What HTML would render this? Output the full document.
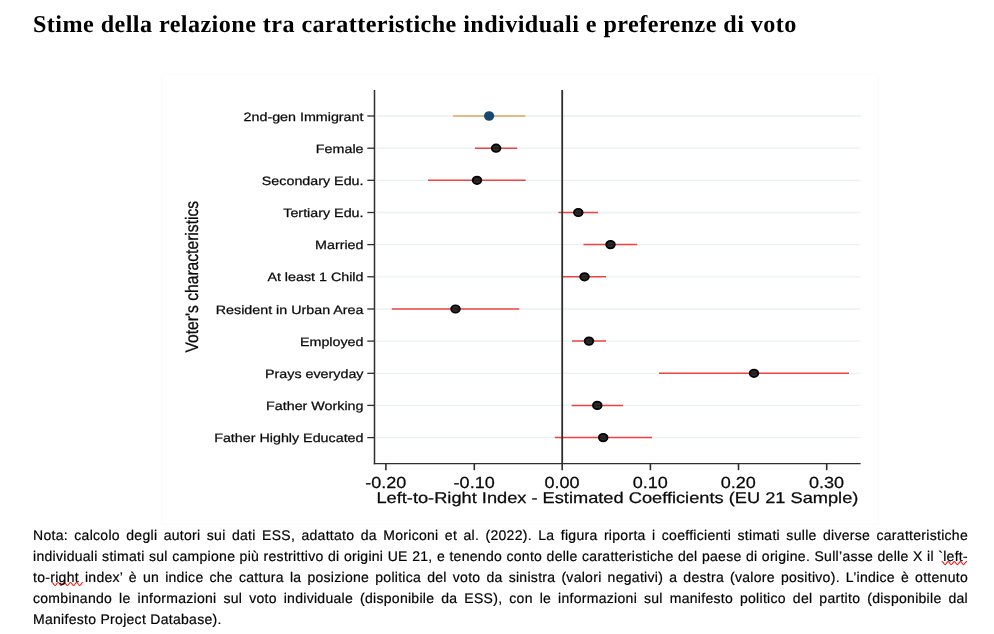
<!DOCTYPE html>
<html lang="it">
<head>
<meta charset="utf-8">
<title>Stime della relazione tra caratteristiche individuali e preferenze di voto</title>
<style>
html,body{margin:0;padding:0;background:#fff;}
body{width:994px;height:634px;position:relative;overflow:hidden;font-family:"Liberation Sans",sans-serif;color:#000;text-rendering:geometricPrecision;}
.chart{position:absolute;left:0;top:0;}
h1{position:absolute;left:33px;top:10.7px;margin:0;font-family:"Liberation Serif",serif;font-weight:bold;font-size:24.15px;line-height:28px;letter-spacing:0.438px;white-space:nowrap;color:#000;}
.note{position:absolute;left:33px;top:525px;width:935px;margin:0;font-size:14px;letter-spacing:0.29px;line-height:20.9px;color:#000;-webkit-text-stroke:0.2px #000;}
.note div{text-align:justify;text-align-last:justify;white-space:nowrap;height:20.9px;}
.note div.last{text-align:left;text-align-last:left;}
</style>
</head>
<body>
<svg class="chart" width="994" height="634" viewBox="0 0 994 634">
<rect x="161.5" y="74.5" width="717" height="449.5" fill="#fff" stroke="#fafbfd" stroke-width="1"/>
<line x1="376.5" y1="116.0" x2="860.6" y2="116.0" stroke="#eaf2f4" stroke-width="1.3"/>
<line x1="376.5" y1="148.2" x2="860.6" y2="148.2" stroke="#eaf2f4" stroke-width="1.3"/>
<line x1="376.5" y1="180.3" x2="860.6" y2="180.3" stroke="#eaf2f4" stroke-width="1.3"/>
<line x1="376.5" y1="212.5" x2="860.6" y2="212.5" stroke="#eaf2f4" stroke-width="1.3"/>
<line x1="376.5" y1="244.6" x2="860.6" y2="244.6" stroke="#eaf2f4" stroke-width="1.3"/>
<line x1="376.5" y1="276.8" x2="860.6" y2="276.8" stroke="#eaf2f4" stroke-width="1.3"/>
<line x1="376.5" y1="309.0" x2="860.6" y2="309.0" stroke="#eaf2f4" stroke-width="1.3"/>
<line x1="376.5" y1="341.1" x2="860.6" y2="341.1" stroke="#eaf2f4" stroke-width="1.3"/>
<line x1="376.5" y1="373.3" x2="860.6" y2="373.3" stroke="#eaf2f4" stroke-width="1.3"/>
<line x1="376.5" y1="405.4" x2="860.6" y2="405.4" stroke="#eaf2f4" stroke-width="1.3"/>
<line x1="376.5" y1="437.6" x2="860.6" y2="437.6" stroke="#eaf2f4" stroke-width="1.3"/>
<line x1="453" y1="116.0" x2="525.5" y2="116.0" stroke="#e2a45e" stroke-width="1.5"/>
<line x1="475" y1="148.2" x2="517.2" y2="148.2" stroke="#f04242" stroke-width="1.5"/>
<line x1="428" y1="180.3" x2="525.7" y2="180.3" stroke="#f04242" stroke-width="1.5"/>
<line x1="558.5" y1="212.5" x2="598" y2="212.5" stroke="#f04242" stroke-width="1.5"/>
<line x1="583.5" y1="244.6" x2="637.2" y2="244.6" stroke="#f04242" stroke-width="1.5"/>
<line x1="562" y1="276.8" x2="606" y2="276.8" stroke="#f04242" stroke-width="1.5"/>
<line x1="391.8" y1="309.0" x2="519.3" y2="309.0" stroke="#f04242" stroke-width="1.5"/>
<line x1="572" y1="341.1" x2="606" y2="341.1" stroke="#f04242" stroke-width="1.5"/>
<line x1="659" y1="373.3" x2="849" y2="373.3" stroke="#f04242" stroke-width="1.5"/>
<line x1="571.7" y1="405.4" x2="623" y2="405.4" stroke="#f04242" stroke-width="1.5"/>
<line x1="554.8" y1="437.6" x2="652" y2="437.6" stroke="#f04242" stroke-width="1.5"/>
<line x1="562.2" y1="90" x2="562.2" y2="463" stroke="#2e2e2e" stroke-width="1.8"/>
<ellipse cx="489.1" cy="116.0" rx="5.1" ry="4.8" fill="#1a476f"/>
<ellipse cx="496.1" cy="148.2" rx="4.4" ry="3.75" fill="#181818" fill-opacity="0.92" stroke="#000" stroke-width="1.7"/>
<ellipse cx="477" cy="180.3" rx="4.4" ry="3.75" fill="#181818" fill-opacity="0.92" stroke="#000" stroke-width="1.7"/>
<ellipse cx="578.3" cy="212.5" rx="4.4" ry="3.75" fill="#181818" fill-opacity="0.92" stroke="#000" stroke-width="1.7"/>
<ellipse cx="610.5" cy="244.6" rx="4.4" ry="3.75" fill="#181818" fill-opacity="0.92" stroke="#000" stroke-width="1.7"/>
<ellipse cx="584.5" cy="276.8" rx="4.4" ry="3.75" fill="#181818" fill-opacity="0.92" stroke="#000" stroke-width="1.7"/>
<ellipse cx="455.5" cy="309.0" rx="4.4" ry="3.75" fill="#181818" fill-opacity="0.92" stroke="#000" stroke-width="1.7"/>
<ellipse cx="589" cy="341.1" rx="4.4" ry="3.75" fill="#181818" fill-opacity="0.92" stroke="#000" stroke-width="1.7"/>
<ellipse cx="754" cy="373.3" rx="4.4" ry="3.75" fill="#181818" fill-opacity="0.92" stroke="#000" stroke-width="1.7"/>
<ellipse cx="597.3" cy="405.4" rx="4.4" ry="3.75" fill="#181818" fill-opacity="0.92" stroke="#000" stroke-width="1.7"/>
<ellipse cx="603.2" cy="437.6" rx="4.4" ry="3.75" fill="#181818" fill-opacity="0.92" stroke="#000" stroke-width="1.7"/>
<line x1="374.5" y1="90" x2="374.5" y2="464.2" stroke="#2e2e2e" stroke-width="1.5"/>
<line x1="373.8" y1="463.55" x2="860.6" y2="463.55" stroke="#2e2e2e" stroke-width="1.35"/>
<line x1="367.3" y1="116.0" x2="374.4" y2="116.0" stroke="#2e2e2e" stroke-width="1.3"/>
<line x1="367.3" y1="148.2" x2="374.4" y2="148.2" stroke="#2e2e2e" stroke-width="1.3"/>
<line x1="367.3" y1="180.3" x2="374.4" y2="180.3" stroke="#2e2e2e" stroke-width="1.3"/>
<line x1="367.3" y1="212.5" x2="374.4" y2="212.5" stroke="#2e2e2e" stroke-width="1.3"/>
<line x1="367.3" y1="244.6" x2="374.4" y2="244.6" stroke="#2e2e2e" stroke-width="1.3"/>
<line x1="367.3" y1="276.8" x2="374.4" y2="276.8" stroke="#2e2e2e" stroke-width="1.3"/>
<line x1="367.3" y1="309.0" x2="374.4" y2="309.0" stroke="#2e2e2e" stroke-width="1.3"/>
<line x1="367.3" y1="341.1" x2="374.4" y2="341.1" stroke="#2e2e2e" stroke-width="1.3"/>
<line x1="367.3" y1="373.3" x2="374.4" y2="373.3" stroke="#2e2e2e" stroke-width="1.3"/>
<line x1="367.3" y1="405.4" x2="374.4" y2="405.4" stroke="#2e2e2e" stroke-width="1.3"/>
<line x1="367.3" y1="437.6" x2="374.4" y2="437.6" stroke="#2e2e2e" stroke-width="1.3"/>
<line x1="385.9" y1="463.5" x2="385.9" y2="470.2" stroke="#2e2e2e" stroke-width="1.6"/>
<line x1="474.3" y1="463.5" x2="474.3" y2="470.2" stroke="#2e2e2e" stroke-width="1.6"/>
<line x1="562.2" y1="463.5" x2="562.2" y2="470.2" stroke="#2e2e2e" stroke-width="1.6"/>
<line x1="650.4" y1="463.5" x2="650.4" y2="470.2" stroke="#2e2e2e" stroke-width="1.6"/>
<line x1="738.5" y1="463.5" x2="738.5" y2="470.2" stroke="#2e2e2e" stroke-width="1.6"/>
<line x1="826.7" y1="463.5" x2="826.7" y2="470.2" stroke="#2e2e2e" stroke-width="1.6"/>
<g font-family="'Liberation Sans', sans-serif" fill="#0a0a0a" stroke="#0a0a0a" stroke-width="0.25" text-rendering="geometricPrecision">
<text transform="translate(363.5 120.5) scale(1.177 1)" font-size="12.15" text-anchor="end">2nd-gen Immigrant</text>
<text transform="translate(363.5 152.7) scale(1.177 1)" font-size="12.15" text-anchor="end">Female</text>
<text transform="translate(363.5 184.8) scale(1.177 1)" font-size="12.15" text-anchor="end">Secondary Edu.</text>
<text transform="translate(363.5 217.0) scale(1.177 1)" font-size="12.15" text-anchor="end">Tertiary Edu.</text>
<text transform="translate(363.5 249.1) scale(1.177 1)" font-size="12.15" text-anchor="end">Married</text>
<text transform="translate(363.5 281.3) scale(1.177 1)" font-size="12.15" text-anchor="end">At least 1 Child</text>
<text transform="translate(363.5 313.5) scale(1.177 1)" font-size="12.15" text-anchor="end">Resident in Urban Area</text>
<text transform="translate(363.5 345.6) scale(1.177 1)" font-size="12.15" text-anchor="end">Employed</text>
<text transform="translate(363.5 377.8) scale(1.177 1)" font-size="12.15" text-anchor="end">Prays everyday</text>
<text transform="translate(363.5 409.9) scale(1.177 1)" font-size="12.15" text-anchor="end">Father Working</text>
<text transform="translate(363.5 442.1) scale(1.177 1)" font-size="12.15" text-anchor="end">Father Highly Educated</text>
<text transform="translate(385.75 488) scale(1.126 1)" font-size="16" text-anchor="middle">-0.20</text>
<text transform="translate(474.15 488) scale(1.126 1)" font-size="16" text-anchor="middle">-0.10</text>
<text transform="translate(562.05 488) scale(1.126 1)" font-size="16" text-anchor="middle">0.00</text>
<text transform="translate(650.25 488) scale(1.126 1)" font-size="16" text-anchor="middle">0.10</text>
<text transform="translate(738.35 488) scale(1.126 1)" font-size="16" text-anchor="middle">0.20</text>
<text transform="translate(826.55 488) scale(1.126 1)" font-size="16" text-anchor="middle">0.30</text>
<text transform="translate(617.4 503.1) scale(1.176 1)" font-size="15.5" text-anchor="middle">Left-to-Right Index - Estimated Coefficients (EU 21 Sample)</text>
<text transform="translate(197.6 276.7) rotate(-90) scale(1 1.15)" font-size="15.65" text-anchor="middle">Voter's characteristics</text>
</g>
<path d="M942.0 561.6 C943.54 561.6 943.54 564.6 945.08 564.6 C946.61 564.6 946.61 561.6 948.15 561.6 C949.69 561.6 949.69 564.6 951.23 564.6 C952.76 564.6 952.76 561.6 954.30 561.6 C955.84 561.6 955.84 564.6 957.38 564.6 C958.91 564.6 958.91 561.6 960.45 561.6 C961.99 561.6 961.99 564.6 963.53 564.6 C965.06 564.6 965.06 561.6 966.60 561.6" fill="none" stroke="#f01818" stroke-width="1.15" stroke-linecap="round"/>
<path d="M52.0 582.5 C53.54 582.5 53.54 585.5 55.08 585.5 C56.62 585.5 56.62 582.5 58.16 582.5 C59.70 582.5 59.70 585.5 61.24 585.5 C62.78 585.5 62.78 582.5 64.32 582.5 C65.86 582.5 65.86 585.5 67.40 585.5 C68.94 585.5 68.94 582.5 70.48 582.5 C72.02 582.5 72.02 585.5 73.56 585.5 C75.10 585.5 75.10 582.5 76.64 582.5 C78.18 582.5 78.18 585.5 79.72 585.5 C81.26 585.5 81.26 582.5 82.80 582.5" fill="none" stroke="#f01818" stroke-width="1.15" stroke-linecap="round"/>
</svg>
<h1>Stime della relazione tra caratteristiche individuali e preferenze di voto</h1>
<div class="note">
<div>Nota: calcolo degli autori sui dati ESS, adattato da Moriconi et al. (2022). La figura riporta i coefficienti stimati sulle diverse caratteristiche</div>
<div>individuali stimati sul campione più restrittivo di origini UE 21, e tenendo conto delle caratteristiche del paese di origine. Sull’asse delle X il `left-</div>
<div>to-right index’ è un indice che cattura la posizione politica del voto da sinistra (valori negativi) a destra (valore positivo). L’indice è ottenuto</div>
<div>combinando le informazioni sul voto individuale (disponibile da ESS), con le informazioni sul manifesto politico del partito (disponibile dal</div>
<div class="last">Manifesto Project Database).</div>
</div>
</body>
</html>
